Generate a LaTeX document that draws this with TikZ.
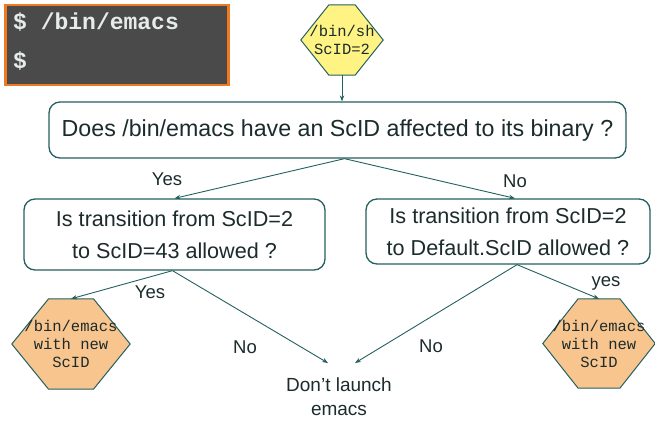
\documentclass[tikz,border=0pt]{standalone}
\usepackage{fontspec}
\setmainfont{Liberation Sans}
\newfontfamily\monofont{Liberation Mono}
\usetikzlibrary{arrows.meta,calc}

\definecolor{edgeteal}{HTML}{24605F}
\definecolor{inkdark}{HTML}{1C2B2B}
\definecolor{termgray}{HTML}{4A4A4A}
\definecolor{termorange}{HTML}{F07A22}
\definecolor{termtext}{HTML}{E6ECEA}
\definecolor{hexyellow}{HTML}{FFF383}
\definecolor{hexorange}{HTML}{F9C58F}

\tikzset{
  question/.style={draw=edgeteal, line width=1.3pt, rounded corners=11pt, fill=white,
    text=inkdark, align=center, font=\fontsize{21.6}{32}\selectfont, inner sep=0pt},
  hexlabel/.style={draw=none, align=center, text=inkdark,
    font=\monofont\fontsize{15.5}{18}\selectfont, inner sep=0pt},
  hexborder/.style={draw=edgeteal, line width=1pt, line join=miter},
  answer/.style={text=inkdark, font=\fontsize{18.5}{20}\selectfont, inner sep=0pt},
  flow/.style={draw=edgeteal, line width=0.9pt, -{Stealth[length=6pt,width=4.5pt]}},
}

% hexagon with flat top and bottom, pointed left and right, spanning node #1
\newcommand{\hexaround}[3]{%
  \path[hexborder, fill=#2]
    ($(#1.west)+(-#3,0)$) --
    ($(#1.north west)!0.24!(#1.north east)$) --
    ($(#1.north west)!0.76!(#1.north east)$) --
    ($(#1.east)+(#3,0)$) --
    ($(#1.south west)!0.76!(#1.south east)$) --
    ($(#1.south west)!0.24!(#1.south east)$) -- cycle;}

\begin{document}
\begin{tikzpicture}[x=1pt, y=-1pt]
\useasboundingbox (0,0) rectangle (655,421);

% terminal window
\node[draw=termorange, line width=2.5pt, fill=termgray, minimum width=223pt,
      minimum height=80pt, inner sep=0pt] (term) at (117,45) {};
\node[anchor=west, text=termtext, font=\monofont\bfseries\fontsize{23}{24}\selectfont,
      inner sep=0pt] (cmd) at (13,22) {\$ /bin/emacs};
\node[anchor=west, text=termtext, font=\monofont\bfseries\fontsize{23}{24}\selectfont,
      inner sep=0pt] (prompt) at (13,61) {\$};

% current process
\node[hexlabel, minimum width=50pt, minimum height=70pt] (sh) at (342,40) {};
\hexaround{sh}{hexyellow}{16pt}
\node[hexlabel] at (sh) {/bin/sh\\ScID=2};

% questions
\node[question, minimum width=577pt, minimum height=56pt, font=\fontsize{23.2}{30}\selectfont]
  (q) at (337.5,130) {Does /bin/emacs have an ScID affected to its binary ?};
\node[question, minimum width=301pt, minimum height=71pt] (ql) at (174.5,234.5)
  {Is transition from ScID=2\\to ScID=43 allowed ?};
\node[question, minimum width=284pt, minimum height=65pt] (qr) at (508,231.5)
  {Is transition from ScID=2\\to Default.ScID allowed ?};

% resulting processes
\node[hexlabel, minimum width=86pt, minimum height=90pt] (hl) at (71,344) {};
\hexaround{hl}{hexorange}{16pt}
\node[hexlabel] at (hl) {/bin/emacs\\with new\\ScID};

\node[hexlabel, minimum width=80pt, minimum height=89pt] (hr) at (599,343.5) {};
\hexaround{hr}{hexorange}{16pt}
\node[hexlabel] at (hr) {/bin/emacs\\with new\\ScID};

\node[answer, align=center, font=\fontsize{19}{24}\selectfont] (stop) at (339,397)
  {Don't launch\\emacs};
\coordinate (stopl) at (328,363);
\coordinate (stopr) at (355,363);

% connectors
\draw[flow] (sh.south) -- (q.north -| sh.south);
\draw[flow] ([xshift=7pt]q.south) -- (ql.north);
\draw[flow] ([xshift=7pt]q.south) -- ([xshift=7pt]qr.north);
\draw[flow] ([xshift=-2pt]ql.south) -- (hl.north);
\draw[flow] ([xshift=-2pt]ql.south) -- (stopl);
\draw[flow] ([xshift=9pt]qr.south) -- (stopr);
\draw[flow] ([xshift=9pt]qr.south) -- (hr.north);

% answer labels
\node[answer] at (167,179) {Yes};
\node[answer] at (515,181) {No};
\node[answer] at (150,292) {Yes};
\node[answer] at (245,347) {No};
\node[answer] at (431,346) {No};
\node[answer] at (606,283) {yes};
\end{tikzpicture}
\end{document}
